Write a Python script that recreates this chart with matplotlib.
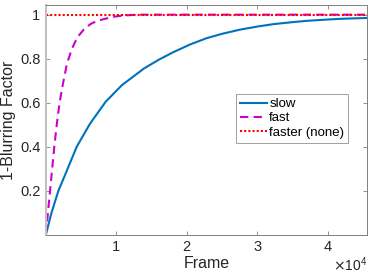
import matplotlib
matplotlib.use('Agg')
import matplotlib.pyplot as plt
import numpy as np

plt.rcParams['font.family'] = ['Liberation Sans', 'DejaVu Sans']

# values (x in frames)
slow_x = [0, 800, 1780, 2960, 4380, 6270, 8500, 10800, 13900, 16000, 18100,
          20500, 22800, 25000, 27550, 30000, 32300, 35000, 37000, 40000,
          41700, 43500, 45560]
slow_y = [0, 0.10, 0.20, 0.29, 0.40, 0.505, 0.605, 0.68, 0.755, 0.795, 0.83,
          0.865, 0.893, 0.913, 0.932, 0.946, 0.957, 0.966, 0.972, 0.978,
          0.981, 0.983, 0.985]

fast_x = [0, 300, 600, 900, 1200, 1550, 1950, 2450, 3000, 3700, 4470, 5400,
          6370, 7300, 8260, 9500, 11000, 13000, 45560]
fast_y = [0, 0.10, 0.20, 0.30, 0.40, 0.50, 0.60, 0.69, 0.777, 0.845, 0.897,
          0.933, 0.958, 0.972, 0.980, 0.990, 0.996, 1.0, 1.0]

faster_x = [0, 45560]
faster_y = [1.0, 1.0]

labels = ['slow', 'fast', 'faster (none)']
xticks = [10000, 20000, 30000, 40000]
xticklabels = ['1', '2', '3', '4']
yticks = [0.2, 0.4, 0.6, 0.8, 1.0]
yticklabels = ['0.2', '0.4', '0.6', '0.8', '1']

fig = plt.figure(figsize=(3.74, 2.80), dpi=100)
ax = fig.add_axes([0.1225, 0.161, 0.8585, 0.822])

ax.plot(slow_x, slow_y, color='#0072BD', lw=1.5, label=labels[0])
ax.plot(fast_x, fast_y, color='#CC00CC', lw=1.5, ls=(0, (4, 2.5)), label=labels[1])
ax.plot(faster_x, faster_y, color='#FF0000', lw=1.5, ls=(0, (1, 1)), label=labels[2])

ax.set_xlim(0, 45560)
ax.set_ylim(0, 1.045)
ax.set_xticks(xticks)
ax.set_xticklabels(xticklabels)
ax.set_yticks(yticks)
ax.set_yticklabels(yticklabels)
ax.tick_params(direction='in', length=3, width=0.6, colors='#808080',
               labelcolor='#262626', labelsize=10.5, top=True, right=True, pad=4)
for s in ax.spines.values():
    s.set_color('#808080')
    s.set_linewidth(0.7)
ax.spines['left'].set_color('#c0c0c0')
ax.spines['left'].set_linewidth(1.5)

ax.set_xlabel('Frame', fontsize=11.5, color='#262626', labelpad=1)
ax.set_ylabel('1-Blurring Factor', fontsize=11.5, color='#262626', labelpad=3)
fig.text(0.982, 0.02, r'$\times\mathregular{10^4}$', ha='right', va='bottom',
         fontsize=10, color='#262626')

leg = ax.legend(loc='upper left', bbox_to_anchor=(0.593, 0.612), fontsize=9.5,
                handlelength=2.0, handletextpad=0.2, borderpad=0.3,
                labelspacing=0.15, fancybox=False, framealpha=1,
                edgecolor='#a0a0a0', borderaxespad=0)
leg.get_frame().set_linewidth(0.7)

fig.savefig('out.png', dpi=100)
